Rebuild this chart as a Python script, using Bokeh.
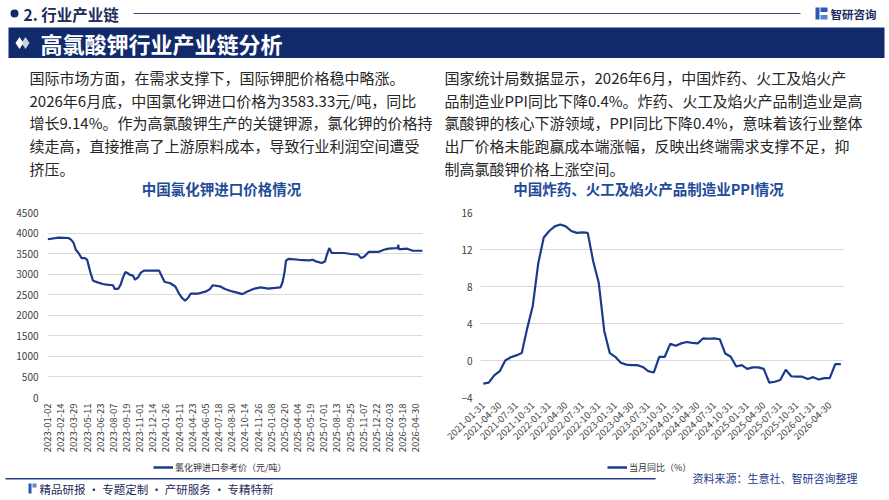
import numpy as np
import pandas as pd
from bokeh.plotting import figure
from bokeh.layouts import column, row
from bokeh.models import Range1d, FixedTicker, Legend, LegendItem
from bokeh.core.properties import value
from bokeh.embed import file_html
from bokeh.resources import INLINE

# ---------------- data ----------------
kcl_dates = ["2023-01-02", "2023-02-07", "2023-03-10", "2023-03-20", "2023-03-28", "2023-04-04",
             "2023-04-13", "2023-04-24", "2023-05-04", "2023-05-11", "2023-05-17", "2023-05-23",
             "2023-05-31", "2023-06-15", "2023-07-03", "2023-07-14", "2023-08-04", "2023-08-10",
             "2023-08-22", "2023-08-30", "2023-09-06", "2023-09-14", "2023-09-21", "2023-09-28",
             "2023-10-10", "2023-10-17", "2023-10-26", "2023-11-03", "2023-11-15", "2023-12-08",
             "2024-01-04", "2024-01-10", "2024-01-23", "2024-02-08", "2024-02-27", "2024-03-08",
             "2024-03-20", "2024-03-29", "2024-04-09", "2024-04-17", "2024-05-09", "2024-06-07",
             "2024-06-20", "2024-06-28", "2024-07-23", "2024-08-08", "2024-09-02", "2024-09-24",
             "2024-10-04", "2024-10-22", "2024-11-14", "2024-12-05", "2024-12-30", "2025-01-21",
             "2025-02-07", "2025-02-14", "2025-02-21", "2025-02-26", "2025-03-06", "2025-04-10",
             "2025-05-14", "2025-05-26", "2025-06-05", "2025-06-24", "2025-07-04", "2025-07-11",
             "2025-07-18", "2025-07-28", "2025-08-13", "2025-09-05", "2025-09-29", "2025-10-22",
             "2025-10-31", "2025-11-12", "2025-11-26", "2025-12-29", "2026-01-15", "2026-01-30",
             "2026-02-24", "2026-03-03", "2026-03-04", "2026-03-05", "2026-03-12", "2026-04-02",
             "2026-04-21", "2026-05-21", "2026-06-11", "2026-06-24", "2026-06-30"]
kcl_price = [3850, 3890, 3880, 3840, 3760, 3600,
             3510, 3390, 3390, 3350, 3190, 3030,
             2840, 2800, 2760, 2745, 2730, 2640,
             2640, 2745, 2905, 3050, 3030, 2990,
             2965, 2865, 2920, 3030, 3085, 3085,
             3085, 2990, 2810, 2785, 2700, 2540,
             2420, 2355, 2420, 2525, 2525, 2580,
             2640, 2730, 2705, 2640, 2580, 2540,
             2515, 2580, 2650, 2680, 2650, 2665,
             2680, 2810, 3070, 3330, 3370, 3350,
             3335, 3350, 3310, 3270, 3310, 3490,
             3635, 3515, 3515, 3515, 3490, 3475,
             3390, 3430, 3540, 3540, 3595, 3620,
             3635, 3640, 3715, 3610, 3610, 3620,
             3570, 3570, 3570, 3540, 3583.33]
kcl_ticks = ["2023-01-02", "2023-02-14", "2023-03-29", "2023-05-11", "2023-06-23", "2023-08-07",
             "2023-09-19", "2023-11-01", "2023-12-14", "2024-01-26", "2024-03-11", "2024-04-23",
             "2024-06-05", "2024-07-18", "2024-08-30", "2024-10-14", "2024-11-26", "2025-01-08",
             "2025-02-20", "2025-04-04", "2025-05-19", "2025-07-01", "2025-08-13", "2025-09-25",
             "2025-11-07", "2025-12-22", "2026-02-03", "2026-03-18", "2026-04-30", "2026-06-12"]
kcl_yticks = [0, 500, 1000, 1500, 2000, 2500, 3000, 3500, 4000, 4500]

ppi_yoy = [-2.5, -2.4, -1.6, -1.15, 0.0, 0.35, 0.55, 0.8, 3.5, 5.9,
           10.5, 13.3, 14.0, 14.5, 14.7, 14.5, 14.0, 13.8, 13.85, 13.8,
           10.7, 8.4, 3.2, 0.8, 0.4, -0.25, -0.45, -0.5, -0.5, -0.7,
           -1.15, -1.3, 0.4, 0.4, 1.8, 1.6, 1.85, 2.0, 1.9, 1.85,
           2.4, 2.35, 2.4, 2.3, 0.75, 0.4, -0.65, -0.5, -0.9, -0.75,
           -0.75, -0.9, -2.4, -2.3, -2.1, -1.0, -1.7, -1.75, -1.75, -2.0,
           -1.8, -2.05, -1.9, -1.9, -0.4, -0.4]
ppi_start = "2021-01-31"
ppi_ticks = ["2021-01-31", "2021-04-30", "2021-07-31", "2021-10-31", "2022-01-31", "2022-04-30",
             "2022-07-31", "2022-10-31", "2023-01-31", "2023-04-30", "2023-07-31", "2023-10-31",
             "2024-01-31", "2024-04-30", "2024-07-31", "2024-10-31", "2025-01-31", "2025-04-30",
             "2025-07-31", "2025-10-31", "2026-01-31", "2026-04-30"]
ppi_yticks = [-4, 0, 4, 8, 12, 16]

header_text = "2. 行业产业链"
banner_text = "高氯酸钾行业产业链分析"
logo_text = "智研咨询"
left_para = ["国际市场方面，在需求支撑下，国际钾肥价格稳中略涨。",
             "2026年6月底，中国氯化钾进口价格为3583.33元/吨，同比",
             "增长9.14%。作为高氯酸钾生产的关键钾源，氯化钾的价格持",
             "续走高，直接推高了上游原料成本，导致行业利润空间遭受",
             "挤压。"]
right_para = ["国家统计局数据显示，2026年6月，中国炸药、火工及焰火产",
              "品制造业PPI同比下降0.4%。炸药、火工及焰火产品制造业是高",
              "氯酸钾的核心下游领域，PPI同比下降0.4%，意味着该行业整体",
              "出厂价格未能跑赢成本端涨幅，反映出终端需求支撑不足，抑",
              "制高氯酸钾价格上涨空间。"]
chart1_title = "中国氯化钾进口价格情况"
chart2_title = "中国炸药、火工及焰火产品制造业PPI情况"
legend1 = "氯化钾进口参考价（元/吨）"
legend2 = "当月同比（%）"
source_text = "资料来源：生意社、智研咨询整理"
footer_text = "精品研报 · 专题定制 · 产研服务 · 专精特新"

# ---------------- style ----------------
CJK = "Noto Sans CJK SC"
NAVY = "#102a6c"
LINE = "#1b3a8c"
TBLUE = "#1f4b98"
W = 889
TOP_H = 200
MID_H = 257
BOT_H = 500 - TOP_H - MID_H
W1 = 440


def canvas(h, y0):
    p = figure(width=W, height=h, x_range=Range1d(0, W), y_range=Range1d(y0 + h, y0),
               output_backend="svg", toolbar_location=None, x_axis_location=None,
               y_axis_location=None, min_border=0, outline_line_color=None)
    p.grid.visible = False
    return p


def txt(p, x, y, s, size, color, bold=False, align="left"):
    p.text(x=[x], y=[y], text=[s], text_font=value(CJK), text_font_size=value(size),
           text_color=color, text_align=align, text_baseline="middle",
           text_font_style="bold" if bold else "normal")


# ---------------- top canvas ----------------
top = canvas(TOP_H, 0)
top.scatter(x=[14], y=[13], size=8, marker="circle", fill_color=NAVY, line_color=None)
txt(top, 23, 13, header_text, "15.5px", "#1c2b5a", bold=True)
top.line(x=[133, 800], y=[13, 13], line_color="#3d4b78", line_width=1)
top.quad(left=[815], right=[819], top=[7], bottom=[19], fill_color="#2b58b5", line_color=None)
top.quad(left=[820], right=[827], top=[7], bottom=[11.5], fill_color="#2b58b5", line_color=None)
top.quad(left=[820], right=[827], top=[14.5], bottom=[19], fill_color="#5b86d0", line_color=None)
txt(top, 830, 13.5, logo_text, "11.5px", "#1c2b5a", bold=True)
top.quad(left=[8], right=[884], top=[27], bottom=[57.5], fill_color=NAVY, line_color=None)
top.scatter(x=[25], y=[42.5], size=12, marker="diamond", fill_color="#c9cfe0", line_color=None)
top.scatter(x=[19], y=[42.5], size=12, marker="diamond", fill_color="white", line_color=None)
txt(top, 40, 42.5, banner_text, "22px", "white", bold=True)

ys = [77, 99.7, 122.4, 145.1, 167.8]
for i, s in enumerate(left_para):
    txt(top, 29, ys[i], s, "15px", "#262626")
for i, s in enumerate(right_para):
    txt(top, 444, ys[i], s, "15px", "#262626")
txt(top, 221, 188, chart1_title, "14.5px", TBLUE, bold=True, align="center")
txt(top, 648, 188, chart2_title, "14.5px", TBLUE, bold=True, align="center")


def style_chart(c):
    c.axis.axis_line_color = None
    c.axis.major_tick_line_color = None
    c.axis.minor_tick_line_color = None
    c.axis.major_tick_out = 0
    c.axis.major_tick_in = 0
    c.axis.major_label_text_font = CJK
    c.axis.major_label_text_color = "#404040"
    c.xgrid.visible = False
    c.ygrid.grid_line_color = "#d9d9d9"
    c.ygrid.grid_line_width = 1


# ---------------- chart 1 ----------------
kx = np.busday_count(np.datetime64(kcl_dates[0]), np.array(kcl_dates, dtype="datetime64[D]"))
kt = np.busday_count(np.datetime64(kcl_dates[0]), np.array(kcl_ticks, dtype="datetime64[D]"))
c1 = figure(width=W1, height=MID_H, x_range=Range1d(-0.5, 884), y_range=Range1d(0, 4500),
            output_backend="svg", toolbar_location=None, min_border_left=47, min_border_right=18,
            min_border_top=12, min_border_bottom=60, outline_line_color=None)
style_chart(c1)
c1.line(x=kx, y=kcl_price, line_color=LINE, line_width=2.2)
c1.yaxis.ticker = FixedTicker(ticks=kcl_yticks)
c1.yaxis.major_label_text_font_size = "10px"
c1.yaxis.major_label_standoff = 9
c1.xaxis.ticker = FixedTicker(ticks=[int(t) for t in kt])
c1.xaxis.major_label_overrides = {int(t): s for t, s in zip(kt, kcl_ticks)}
c1.xaxis.major_label_orientation = np.pi / 2
c1.xaxis.major_label_text_font_size = "9.5px"
c1.xaxis.major_label_standoff = 6

# ---------------- chart 2 ----------------
ppi_months = list(pd.date_range(ppi_start, periods=len(ppi_yoy), freq=pd.offsets.MonthEnd()).strftime("%Y-%m-%d"))
px = np.arange(len(ppi_yoy))
pt = [ppi_months.index(t) for t in ppi_ticks]
c2 = figure(width=W - W1, height=MID_H, x_range=Range1d(-0.5, 65.5), y_range=Range1d(-4, 16),
            output_backend="svg", toolbar_location=None, min_border_left=40, min_border_right=46,
            min_border_top=12, min_border_bottom=55, outline_line_color=None)
style_chart(c2)
c2.line(x=px, y=ppi_yoy, line_color=LINE, line_width=2.2)
c2.yaxis.ticker = FixedTicker(ticks=ppi_yticks)
c2.yaxis.major_label_text_font_size = "10px"
c2.yaxis.major_label_standoff = 8
c2.xaxis.ticker = FixedTicker(ticks=pt)
c2.xaxis.major_label_overrides = {t: s for t, s in zip(pt, ppi_ticks)}
c2.xaxis.major_label_orientation = np.pi / 4
c2.xaxis.major_label_text_font_size = "9.5px"
c2.xaxis.major_label_standoff = 6

# ---------------- bottom canvas: legends + footer ----------------
bot = canvas(BOT_H, TOP_H + MID_H)
k1 = bot.line(x=[np.nan, np.nan], y=[np.nan, np.nan], line_color=LINE, line_width=2.5)
k2 = bot.line(x=[np.nan, np.nan], y=[np.nan, np.nan], line_color=LINE, line_width=2.5)


def make_legend(label, r, vx, vy):
    return Legend(items=[LegendItem(label=label, renderers=[r])], location=(vx, vy),
                  orientation="horizontal", padding=0, margin=0, border_line_color=None,
                  background_fill_alpha=0, glyph_width=20, glyph_height=12, label_standoff=2,
                  label_text_font=CJK, label_text_font_size="9px", label_text_color="#333333",
                  label_height=12)


bot.add_layout(make_legend(legend1, k1, 153, 26.5), "center")
bot.add_layout(make_legend(legend2, k2, 607, 26.5), "center")
bot.line(x=[5, 655], y=[478.3, 478.3], line_color="#2a3f85", line_width=1.5)
txt(bot, 692, 477.5, source_text, "11px", "#1f3a88")
bot.quad(left=[28], right=[31], top=[483], bottom=[493], fill_color="#2b58b5", line_color=None)
bot.quad(left=[32], right=[36], top=[483], bottom=[487], fill_color="#5b86d0", line_color=None)
txt(bot, 39, 488, footer_text, "11.5px", "#1c2b5a")

layout = column(top, row(c1, c2), bot)
open("out.html", "w").write(file_html(layout, INLINE))
